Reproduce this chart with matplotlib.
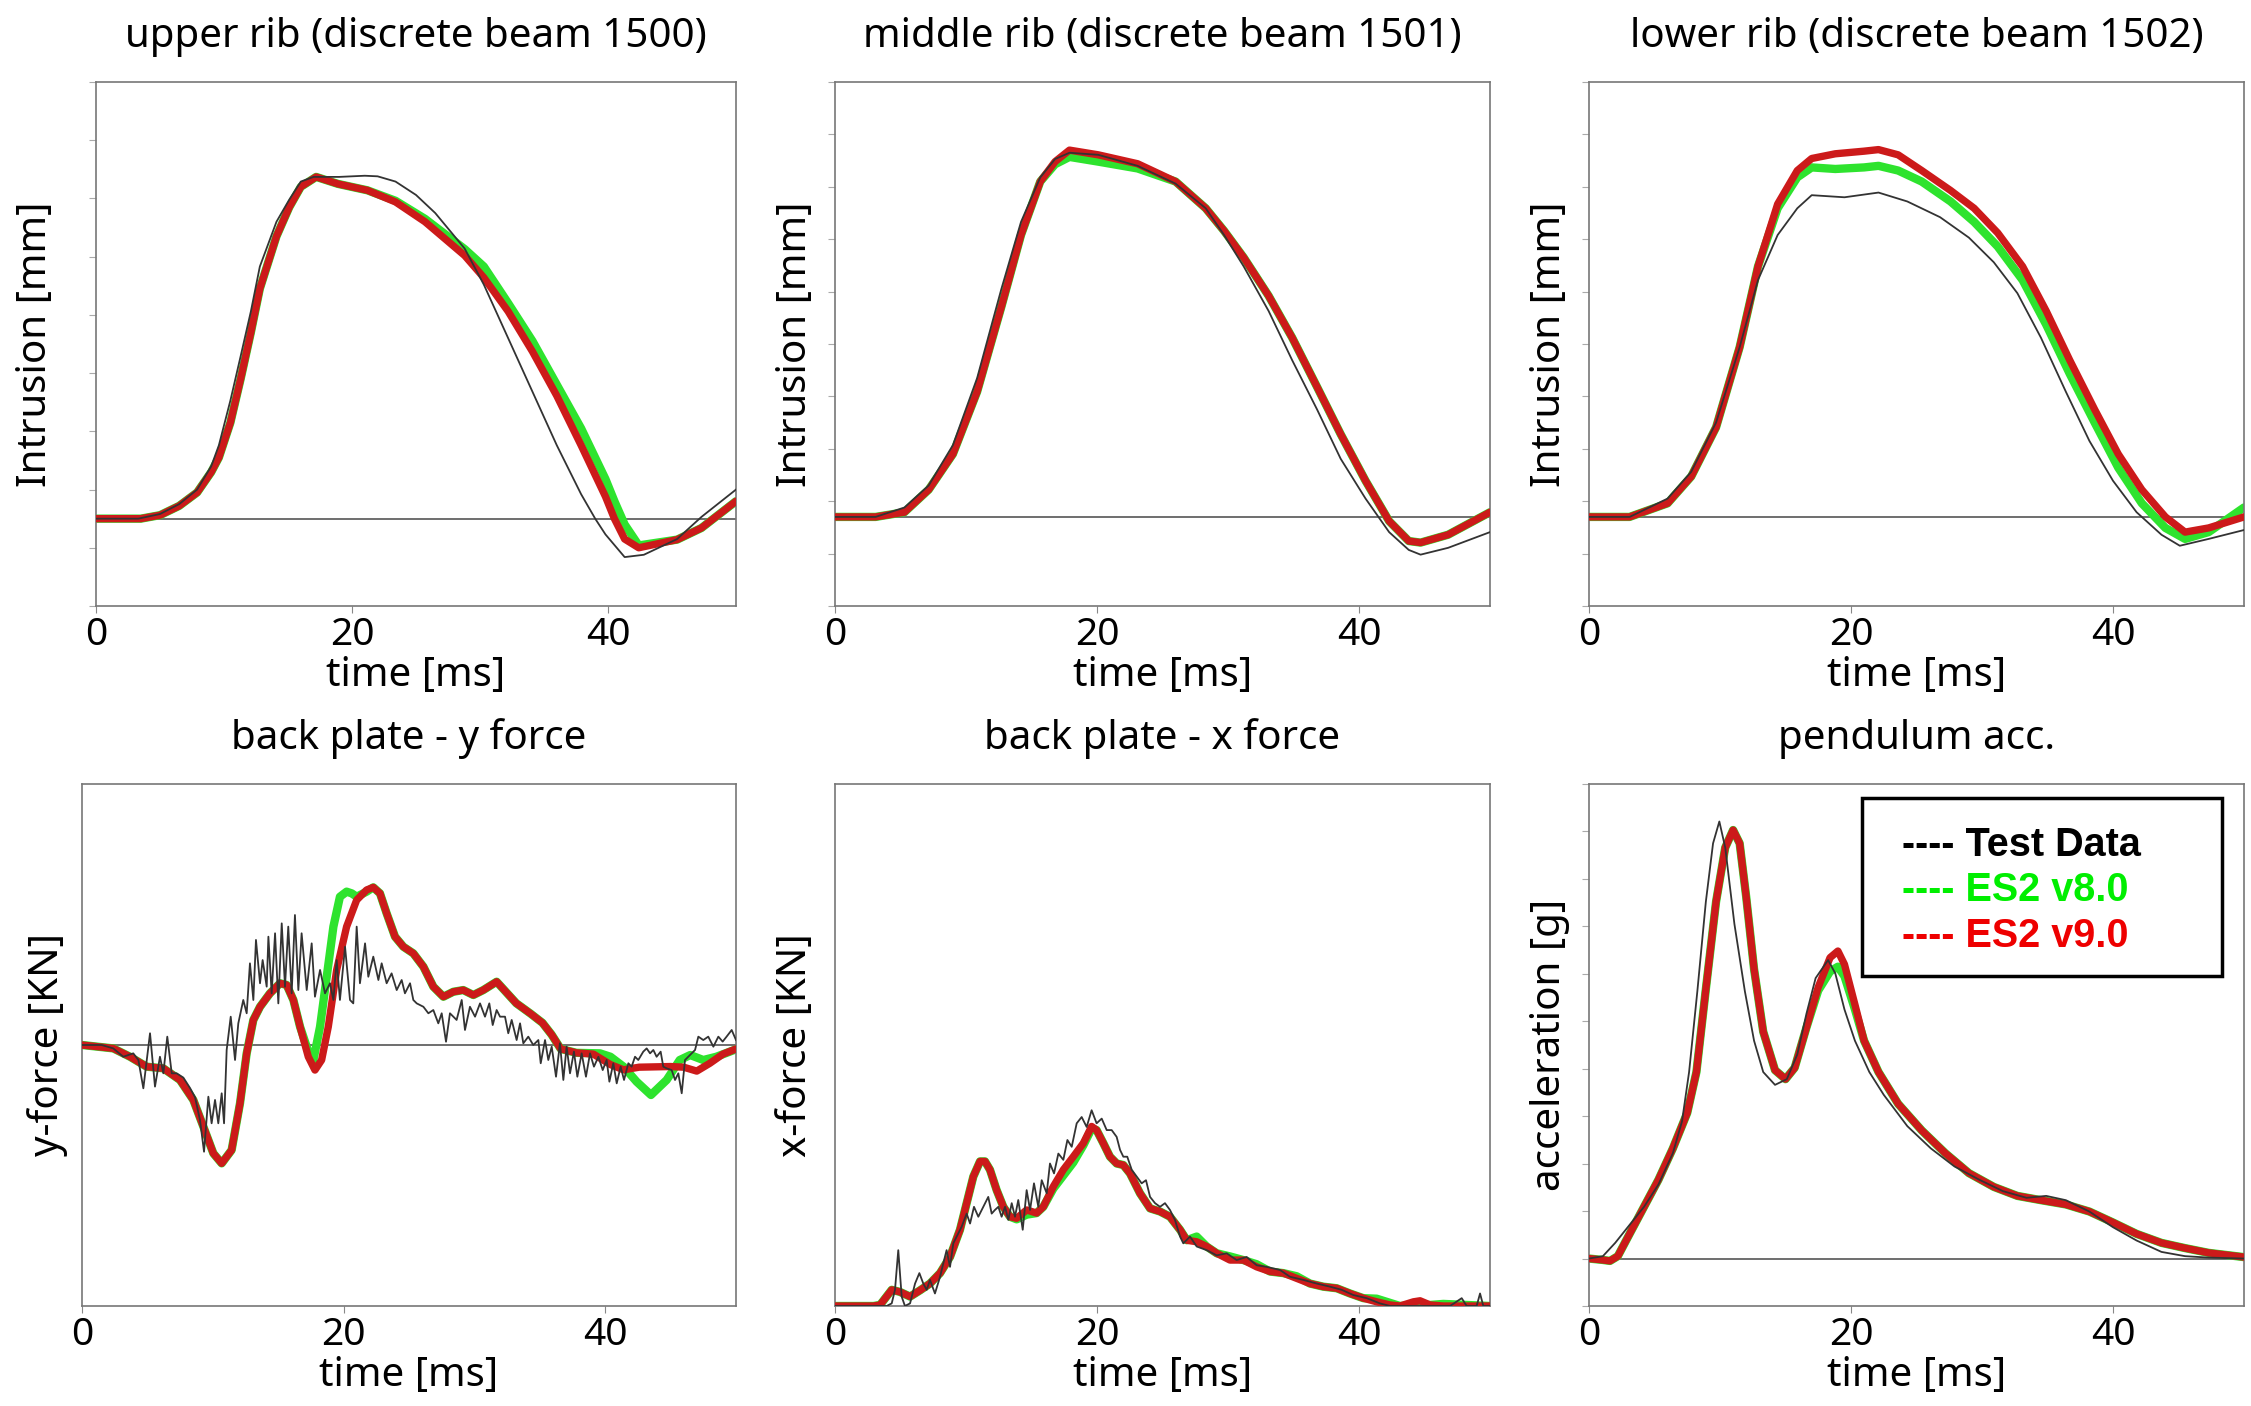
import matplotlib.pyplot as plt
from matplotlib.patches import Rectangle

plt.rcParams['font.family'] = ['Noto Sans', 'DejaVu Sans']

# ---------------- data ----------------
# upper rib intrusion [mm]
up_t_test = [0, 3.3, 5, 6.5, 7.9, 9.0, 9.6, 10.5, 11.3, 12.1, 12.8, 14.1, 15.1, 16.0, 17.0, 19.0, 21.0,
             22.0, 23.4, 25.0, 26.5, 28.8, 30.3, 32.2, 34.1, 36.0, 37.9, 39.0, 39.8, 41.3, 42.8, 45.4, 47.3, 50]
up_test = [0, 0, 0.8, 2.5, 5.0, 9.0, 12.6, 20.3, 27.9, 35.6, 43.3, 51.0, 54.8, 57.9, 58.7, 58.7, 58.9,
           58.8, 57.9, 55.6, 52.5, 46.4, 40.2, 31.0, 21.8, 12.6, 4.2, 0, -2.7, -6.6, -6.2, -3.5, 0.3, 5.0]
up_t_sim = [0, 3.5, 5, 6.5, 7.9, 9.0, 9.6, 10.5, 11.3, 12.1, 12.8, 14.1, 15.1, 16.0, 17.2, 18.9, 21.2,
            23.4, 25.7, 28.8, 30.3, 32.2, 34.1, 36.0, 37.9, 39.8, 40.5, 41.3, 42.4, 45.4, 47.3, 50]
up_v9 = [0, 0, 0.6, 2.2, 4.5, 8.0, 10.5, 16.5, 24.0, 32.0, 39.5, 48.5, 53.5, 57.0, 58.7, 57.5, 56.4,
         54.4, 51.0, 45.2, 41.4, 35.6, 28.7, 21.1, 12.6, 3.8, 0, -3.5, -5.0, -3.6, -1.6, 3.0]
up_v8 = [0, 0, 0.6, 2.2, 4.5, 8.0, 10.5, 16.5, 24.0, 32.0, 39.5, 48.5, 53.5, 57.0, 58.7, 57.5, 56.4,
         54.6, 51.5, 46.3, 43.3, 37.0, 30.5, 23.0, 15.5, 6.8, 3.0, -1.0, -4.6, -3.6, -1.6, 3.0]

# middle rib intrusion [mm]
mid_t = [0, 3.1, 5.3, 7.15, 9.0, 10.85, 12.7, 14.2, 15.67, 16.8, 17.9, 20.1, 23.1, 26.0, 28.3, 29.7,
         31.2, 33.1, 34.9, 36.8, 38.6, 40.5, 42.3, 43.8, 44.7, 46.8, 50]
mid_test = [0, 0, 1.8, 6.0, 13.7, 26.5, 43.5, 56.3, 64.8, 68.3, 69.5, 69.1, 67.0, 63.6, 58.9, 53.8,
            47.8, 39.3, 29.9, 20.5, 11.1, 3.5, -2.9, -6.3, -7.2, -5.9, -2.9]
mid_v9 = [0, 0, 0.9, 5.2, 12.0, 23.9, 40.1, 53.8, 64.0, 67.8, 70.0, 69.1, 67.4, 64.0, 58.9, 54.6,
          49.5, 42.2, 34.2, 24.8, 15.8, 6.9, -0.8, -4.6, -4.9, -3.4, 0.9]
mid_v8 = [0, 0, 0.9, 5.2, 12.0, 23.9, 40.1, 53.8, 64.0, 67.3, 68.7, 67.8, 66.5, 64.0, 58.9, 54.6,
          49.5, 42.2, 34.2, 24.8, 15.8, 6.9, -0.8, -4.6, -4.9, -3.4, 0.9]

# lower rib intrusion [mm]
low_t_test = [0, 3.1, 6.0, 7.8, 9.7, 11.5, 12.9, 14.4, 15.9, 17.0, 19.5, 22.1, 24.3, 26.8, 29.0, 30.9,
              32.7, 34.5, 36.4, 38.2, 40.0, 41.8, 43.7, 45.1, 47.3, 50]
low_test = [0, 0, 3.5, 8.6, 18.0, 32.4, 45.2, 53.8, 58.9, 61.4, 61.0, 61.9, 60.2, 57.2, 53.3, 48.6,
            42.7, 34.2, 23.9, 14.5, 6.9, 0.9, -3.4, -5.5, -4.2, -2.5]
low_t_sim = [0, 3.1, 6.0, 7.8, 9.7, 11.5, 12.9, 14.4, 15.9, 17.0, 18.8, 21.0, 22.1, 23.6, 25.4, 27.6,
             29.4, 31.2, 33.1, 34.9, 36.7, 38.6, 40.4, 42.2, 44.0, 45.5, 47.3, 50]
low_v9 = [0, 0, 2.6, 7.7, 17.1, 32.4, 47.8, 59.7, 66.1, 68.4, 69.3, 69.8, 70.1, 69.1, 66.1, 62.3,
          58.9, 54.2, 47.8, 39.3, 29.9, 20.5, 12.0, 5.2, 0.0, -2.9, -2.1, 0.0]
low_v8 = [0, 0, 2.6, 7.7, 17.1, 32.4, 47.8, 58.9, 64.8, 66.7, 66.4, 66.7, 67.0, 66.1, 64.0, 60.2,
          56.3, 51.6, 45.2, 36.7, 27.3, 18.0, 9.4, 2.6, -2.1, -4.2, -2.9, 1.8]

# back plate y force [kN]
yf_t_test = [0, 1.5, 2.39, 3.16, 3.92, 4.31, 4.69, 5.20, 5.58, 5.96, 6.22, 6.52, 6.86, 7.24, 7.75, 8.26,
             8.64, 9.02, 9.33, 9.66, 9.91, 10.17, 10.42, 10.68, 10.86, 11.06, 11.37, 11.70, 11.95, 12.33,
             12.59, 12.84, 13.10, 13.30, 13.61, 13.81, 14.12, 14.25, 14.50, 14.76, 15.01, 15.27, 15.52,
             15.77, 16.03, 16.28, 16.54, 16.79, 17.18, 17.56, 17.81, 18.20, 18.58, 18.96, 19.22, 19.47,
             19.72, 20.11, 20.49, 20.74, 21.00, 21.25, 21.64, 21.89, 22.27, 22.66, 22.91, 23.29, 23.67,
             24.06, 24.44, 24.69, 25.08, 25.33, 25.59, 26.10, 26.48, 26.86, 27.24, 27.50, 27.83, 28.13,
             28.64, 29.03, 29.28, 29.66, 30.05, 30.43, 30.81, 31.14, 31.40, 31.70, 31.96, 32.34, 32.59,
             32.85, 33.23, 33.49, 33.74, 34.12, 34.50, 34.89, 35.07, 35.40, 35.65, 35.91, 36.24, 36.54,
             36.80, 37.05, 37.31, 37.61, 37.87, 38.20, 38.53, 38.84, 39.14, 39.48, 39.81, 40.11, 40.32,
             40.62, 40.88, 41.18, 41.44, 41.77, 42.02, 42.28, 42.53, 42.91, 43.17, 43.43, 43.68, 43.93,
             44.24, 44.44, 44.70, 45.08, 45.34, 45.59, 45.85, 46.10, 46.48, 46.87, 47.12, 47.50, 47.88,
             48.27, 48.65, 48.98, 49.28, 49.67, 50.0]
yf_test = [0, 0, -0.026, -0.090, -0.064, -0.115, -0.332, 0.090, -0.319, -0.090, -0.217, 0.064, -0.217,
           -0.217, -0.25, -0.33, -0.40, -0.575, -0.818, -0.396, -0.600, -0.421, -0.600, -0.370, -0.600,
           -0.038, 0.217, -0.115, 0.166, 0.345, 0.243, 0.626, 0.345, 0.805, 0.473, 0.651, 0.447, 0.830,
           0.396, 0.856, 0.319, 0.932, 0.447, 0.907, 0.396, 0.996, 0.421, 0.856, 0.421, 0.779, 0.370,
           0.575, 0.396, 0.473, 0.345, 0.651, 0.345, 0.753, 0.345, 0.319, 0.907, 0.473, 0.779, 0.523,
           0.677, 0.498, 0.626, 0.473, 0.549, 0.421, 0.498, 0.396, 0.473, 0.345, 0.319, 0.293, 0.243,
           0.268, 0.166, 0.243, 0.025, 0.243, 0.192, 0.345, 0.115, 0.293, 0.217, 0.319, 0.217, 0.319,
           0.153, 0.268, 0.217, 0.217, 0.090, 0.192, 0.038, 0.166, 0.013, 0.064, 0.0, 0.038, -0.140,
           0.038, -0.115, -0.013, -0.243, 0.013, -0.268, -0.013, -0.217, -0.051, -0.243, -0.064, -0.243,
           -0.064, -0.166, -0.090, -0.192, -0.115, -0.281, -0.140, -0.294, -0.166, -0.268, -0.140, -0.166,
           -0.090, -0.115, -0.051, -0.026, -0.064, -0.038, -0.090, -0.051, -0.166, -0.179, -0.192, -0.268,
           -0.217, -0.370, -0.115, -0.077, -0.038, 0.064, 0.038, 0.064, -0.013, 0.064, 0.026, 0.064,
           0.115, 0.038]
yf_t_v9 = [0, 2.39, 3.67, 4.94, 6.22, 7.49, 8.51, 9.28, 10.04, 10.68, 11.44, 12.08, 12.59, 13.10, 13.61,
           14.37, 15.14, 15.65, 16.16, 16.67, 17.30, 17.81, 18.32, 18.83, 19.47, 20.23, 21.00, 21.76,
           22.27, 22.78, 23.29, 23.93, 24.57, 25.33, 26.10, 26.86, 27.63, 28.39, 29.15, 29.92, 30.68,
           31.70, 33.2, 34.3, 35.2, 35.9, 36.6, 37.8, 39.1, 40.4, 41.4, 42.6, 45.0, 46.0, 47.0, 48.0,
           49.0, 50]
yf_v9 = [0, -0.026, -0.090, -0.166, -0.179, -0.268, -0.421, -0.626, -0.830, -0.907, -0.805, -0.447,
         -0.064, 0.192, 0.293, 0.396, 0.473, 0.460, 0.345, 0.140, -0.090, -0.192, -0.115, 0.140, 0.575,
         0.907, 1.111, 1.188, 1.208, 1.162, 1.009, 0.830, 0.753, 0.702, 0.600, 0.447, 0.370, 0.408,
         0.421, 0.383, 0.421, 0.485, 0.32, 0.24, 0.17, 0.08, -0.03, -0.06, -0.07, -0.15, -0.19, -0.17,
         -0.165, -0.17, -0.20, -0.14, -0.07, -0.03]
yf_t_v8 = [0, 2.39, 3.67, 4.94, 6.22, 7.49, 8.51, 9.28, 10.04, 10.68, 11.44, 12.08, 12.59, 13.10, 13.61,
           14.37, 15.14, 15.65, 16.16, 16.67, 17.30, 17.69, 18.20, 18.71, 19.22, 19.72, 20.23, 20.62,
           21.00, 21.76, 22.27, 22.78, 23.29, 23.93, 24.57, 25.33, 26.10, 26.86, 27.63, 28.39, 29.15,
           29.92, 30.68, 31.70, 33.2, 34.3, 35.2, 35.9, 36.6, 37.8, 39.6, 40.4, 41.4, 42.4, 43.5, 44.7,
           45.7, 46.5, 47.5, 48.5, 50]
yf_v8 = [0, -0.026, -0.090, -0.166, -0.179, -0.268, -0.421, -0.626, -0.830, -0.907, -0.805, -0.447,
         -0.064, 0.192, 0.293, 0.396, 0.473, 0.460, 0.345, 0.140, -0.050, -0.115, 0.140, 0.523, 0.907,
         1.136, 1.175, 1.162, 1.136, 1.175, 1.208, 1.162, 1.009, 0.830, 0.753, 0.702, 0.600, 0.447,
         0.370, 0.408, 0.421, 0.383, 0.421, 0.485, 0.32, 0.24, 0.17, 0.08, -0.03, -0.06, -0.064, -0.09,
         -0.166, -0.281, -0.383, -0.268, -0.115, -0.077, -0.115, -0.09, -0.033]

# back plate x force [kN]
xf_t_test = [0, 3.94, 4.33, 4.58, 4.83, 5.09, 5.34, 5.73, 6.11, 6.44, 6.74, 7.0, 7.25, 7.63, 8.02, 8.27,
             8.52, 8.78, 9.03, 9.29, 9.67, 10.05, 10.31, 10.61, 10.94, 11.32, 11.70, 11.96, 12.21, 12.47,
             12.72, 12.98, 13.23, 13.49, 13.74, 13.99, 14.33, 14.63, 14.89, 15.19, 15.52, 15.78, 16.16,
             16.41, 16.72, 17.05, 17.43, 17.74, 18.07, 18.45, 18.83, 19.21, 19.59, 19.97, 20.36, 20.74,
             21.12, 21.50, 21.76, 22.01, 22.31, 22.65, 23.03, 23.41, 23.74, 24.05, 24.43, 24.81, 25.19,
             25.57, 25.95, 26.34, 26.59, 27.10, 27.61, 28.37, 29.14, 29.90, 30.66, 31.42, 32.19, 32.95,
             33.97, 34.73, 35.75, 36.77, 37.79, 38.68, 39.57, 40.59, 41.60, 42.37, 46.95, 47.84, 48.22,
             48.98, 49.24, 49.49, 50]
xf_test = [0, 0, 0.05, 0.31, 1.07, 0.18, 0, 0.05, 0.43, 0.63, 0.43, 0.31, 0.50, 0.24, 0.56, 0.82, 1.07,
           0.75, 1.20, 1.33, 1.52, 1.77, 1.58, 1.90, 1.71, 1.90, 2.09, 1.77, 1.84, 1.90, 1.71, 1.90, 1.65,
           1.97, 1.71, 2.03, 1.46, 2.22, 1.84, 2.35, 1.90, 2.41, 2.16, 2.73, 2.54, 2.92, 2.80, 3.18, 3.05,
           3.50, 3.62, 3.43, 3.75, 3.50, 3.59, 3.37, 3.37, 3.24, 2.99, 2.86, 2.86, 2.61, 2.48, 2.35, 2.41,
           2.09, 1.97, 1.90, 1.97, 1.84, 1.65, 1.33, 1.20, 1.33, 1.14, 1.07, 0.97, 1.01, 0.88, 0.94, 0.78,
           0.75, 0.69, 0.56, 0.50, 0.43, 0.37, 0.31, 0.21, 0.15, 0.05, 0, 0, 0.15, 0, 0, 0.24, 0, 0]
xf_t_sim = [0, 2.93, 3.44, 4.33, 4.96, 5.73, 6.49, 7.25, 8.02, 8.78, 9.54, 10.05, 10.56, 11.07, 11.45,
            11.83, 12.34, 12.85, 13.36, 13.87, 14.63, 15.39, 15.90, 16.67, 17.43, 18.19, 18.96, 19.59,
            19.97, 20.48, 20.99, 21.50, 22.01, 22.52, 23.28, 24.05, 24.81, 25.57, 26.34, 26.85, 27.61,
            28.37, 29.14, 30.15, 31.17, 32.19, 33.21, 34.22, 35.24, 36.26, 37.28, 38.30, 39.31, 40.33,
            41.35, 42.37, 43.13, 44.15, 44.66, 45.42, 46.44, 50]
xf_v9 = [0, 0, 0.02, 0.31, 0.27, 0.18, 0.30, 0.43, 0.63, 0.94, 1.46, 1.97, 2.48, 2.77, 2.77, 2.61, 2.22,
         1.90, 1.71, 1.68, 1.84, 1.78, 1.90, 2.29, 2.61, 2.86, 3.12, 3.44, 3.37, 3.12, 2.86, 2.73, 2.70,
         2.54, 2.16, 1.87, 1.81, 1.71, 1.46, 1.26, 1.23, 1.14, 1.01, 0.88, 0.88, 0.75, 0.66, 0.63, 0.53,
         0.43, 0.37, 0.34, 0.24, 0.15, 0.08, 0.02, 0, 0.08, 0.10, 0.02, 0, 0]
xf_v8 = [0, 0, 0.02, 0.31, 0.27, 0.18, 0.30, 0.43, 0.63, 0.94, 1.46, 1.97, 2.48, 2.77, 2.77, 2.61, 2.22,
         1.90, 1.71, 1.66, 1.75, 1.78, 1.90, 2.25, 2.50, 2.75, 3.08, 3.40, 3.37, 3.12, 2.86, 2.73, 2.70,
         2.54, 2.16, 1.87, 1.81, 1.71, 1.46, 1.26, 1.33, 1.14, 1.01, 0.95, 0.88, 0.80, 0.66, 0.63, 0.57,
         0.43, 0.37, 0.34, 0.24, 0.15, 0.14, 0.06, 0, 0.02, 0.02, 0.02, 0.04, 0]

# pendulum acceleration [g]
acc_t_test = [0, 1.06, 2.0, 3.1, 4.2, 5.3, 6.4, 7.1, 7.64, 8.27, 8.92, 9.47, 9.95, 10.4, 11.1, 11.9,
              12.6, 13.3, 14.2, 15.1, 15.9, 16.6, 17.3, 18.25, 18.8, 19.5, 20.3, 21.4, 22.5, 24.3, 26.1,
              27.9, 29.8, 31.6, 33.4, 34.9, 36.4, 38.2, 40.0, 41.8, 43.7, 45.5, 47.3, 50]
acc_test = [0, 0.5, 3.3, 7.1, 10.9, 15.6, 22.2, 28.9, 39.3, 56.3, 75.2, 87.5, 92.1, 86.6, 70.5, 56.3,
            45.9, 39.3, 36.6, 37.8, 43.0, 51.6, 59.1, 62.9, 60.1, 52.5, 45.9, 39.3, 34.5, 27.9, 23.2,
            19.4, 16.6, 14.2, 12.8, 13.2, 12.3, 9.9, 6.6, 3.8, 1.4, 0.5, 0.2, 0]
acc_t_sim = [0, 1.06, 1.6, 2.2, 3.1, 4.2, 5.3, 6.4, 7.5, 8.2, 8.9, 9.7, 10.4, 11.0, 11.5, 12.0, 12.6,
             13.3, 14.2, 15.0, 15.7, 16.6, 17.5, 18.4, 19.0, 19.5, 20.3, 21.0, 22.1, 23.6, 25.4, 27.2,
             29.0, 30.9, 32.7, 34.5, 36.4, 38.2, 40.0, 41.8, 43.7, 45.5, 47.3, 50]
acc_v9 = [0, -0.3, -0.5, 0.5, 5.2, 10.9, 16.6, 23.2, 30.7, 39.3, 56.3, 75.2, 86.6, 90.3, 87.5, 76.2,
          61.0, 47.8, 39.7, 37.8, 40.2, 48.7, 57.2, 63.4, 64.8, 62.0, 53.5, 45.9, 39.3, 32.6, 27.0, 22.2,
          18.0, 15.1, 13.2, 12.3, 11.4, 9.9, 7.6, 5.2, 3.3, 2.2, 1.2, 0.3]
acc_v8 = [0, -0.3, -0.5, 0.5, 5.2, 10.9, 16.6, 23.2, 30.7, 39.3, 56.3, 75.2, 86.6, 90.3, 87.5, 76.2,
          61.0, 47.8, 39.7, 37.8, 40.2, 48.7, 56.5, 60.5, 61.5, 59.5, 52.5, 45.9, 39.3, 32.6, 27.0, 22.2,
          18.0, 15.1, 13.2, 12.3, 11.4, 9.9, 7.6, 5.2, 3.3, 2.2, 1.2, 0.3]

titles = ['upper rib (discrete beam 1500)', 'middle rib (discrete beam 1501)',
          'lower rib (discrete beam 1502)', 'back plate - y force', 'back plate - x force',
          'pendulum acc.']
ylabels = ['Intrusion [mm]', 'Intrusion [mm]', 'Intrusion [mm]', 'y-force [KN]', 'x-force [KN]',
           'acceleration [g]']
legend_labels = ['---- Test Data', '---- ES2 v8.0', '---- ES2 v9.0']

TEST_C = '#333333'
V8_C = '#2ee32e'
V9_C = '#cc1a1a'
LEG_C = ['black', '#00ee00', '#ee0000']

W, H = 2251, 1406
fig = plt.figure(figsize=(W / 100, H / 100), dpi=100)


def rect(l, t, r, b):
    return [l / W, 1 - b / H, (r - l) / W, (b - t) / H]


def panel(r, i, test, v8, v9, ylim, yticks, ylab_x, zero=True):
    ax = fig.add_axes(r)
    ax.plot(v8[0], v8[1], color=V8_C, lw=6.0, zorder=2, solid_capstyle='round', solid_joinstyle='round')
    ax.plot(v9[0], v9[1], color=V9_C, lw=5.3, zorder=3, solid_capstyle='round', solid_joinstyle='round')
    ax.plot(test[0], test[1], color=TEST_C, lw=1.3, zorder=4)
    if zero:
        ax.axhline(0, color='#555555', lw=1.2, zorder=1)
    ax.set_xlim(0, 50)
    ax.set_ylim(*ylim)
    ax.set_xticks([0, 20, 40])
    ax.set_yticks(yticks)
    ax.set_yticklabels([])
    ax.tick_params(axis='x', labelsize=28, length=5, color='#888888', pad=2)
    ax.tick_params(axis='y', length=5, color='#aaaaaa', width=0.8)
    for s in ax.spines.values():
        s.set_color('#777777')
        s.set_linewidth(1.2)
    ax.set_title(titles[i], fontsize=29, pad=25)
    ax.set_xlabel('time [ms]', fontsize=29, va='center')
    ax.xaxis.set_label_coords(0.5, -70 / (r[3] * H))
    ax.set_ylabel(ylabels[i], fontsize=29, va='center')
    ax.yaxis.set_label_coords(ylab_x / (r[2] * W), 0.5)
    return ax


panel(rect(96, 82, 736, 606), 0, (up_t_test, up_test), (up_t_sim, up_v8), (up_t_sim, up_v9),
      (-15, 75), list(range(-15, 76, 10)), -60)
panel(rect(835, 82, 1490, 606), 1, (mid_t, mid_test), (mid_t, mid_v8), (mid_t, mid_v9),
      (-17, 83), list(range(-17, 84, 10)), -39)
panel(rect(1589, 82, 2244, 606), 2, (low_t_test, low_test), (low_t_sim, low_v8), (low_t_sim, low_v9),
      (-17, 83), list(range(-17, 84, 10)), -39)
panel(rect(82, 784, 736, 1306), 3, (yf_t_test, yf_test), (yf_t_v8, yf_v8), (yf_t_v9, yf_v9),
      (-2, 2), [], -34)
panel(rect(835, 784, 1490, 1306), 4, (xf_t_test, xf_test), (xf_t_sim, xf_v8), (xf_t_sim, xf_v9),
      (0, 10), [], -39, zero=False)
ax = panel(rect(1589, 784, 2244, 1306), 5, (acc_t_test, acc_test), (acc_t_sim, acc_v8),
           (acc_t_sim, acc_v9), (-10, 100), list(range(-10, 101, 10)), -39)

# legend box drawn as text, as in the original
ax.add_patch(Rectangle((0.417, 0.632), 0.549, 0.341, transform=ax.transAxes, facecolor='white',
                       edgecolor='black', lw=2.5, zorder=6))
for k, (lab, c) in enumerate(zip(legend_labels, LEG_C)):
    ax.text(0.478, 0.884 - 0.088 * k, lab, transform=ax.transAxes, color=c, fontsize=28.5,
            fontweight='bold', family=['Liberation Sans', 'DejaVu Sans'], va='center', ha='left',
            zorder=7)

fig.savefig('out.png', dpi=100)
